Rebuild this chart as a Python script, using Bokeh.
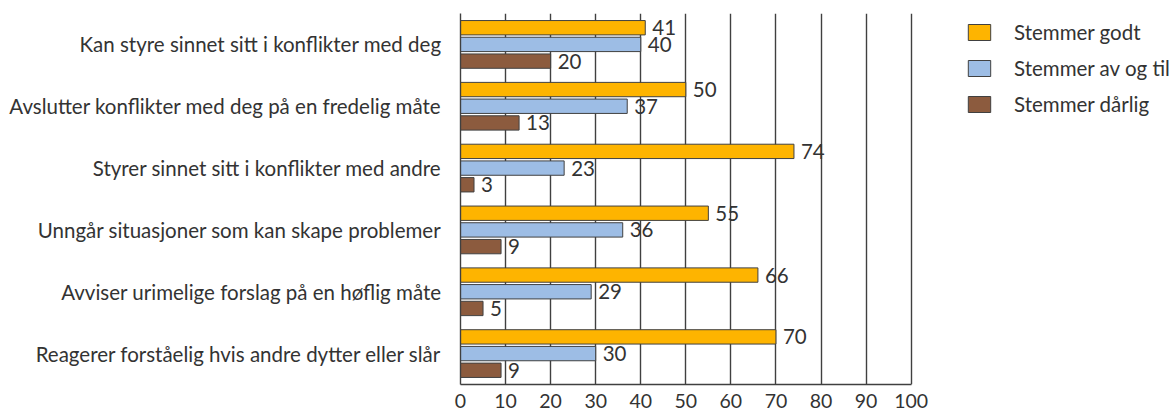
from bokeh.plotting import figure
from bokeh.models import (ColumnDataSource, FactorRange, Range1d, FixedTicker,
                          Legend, LegendItem)
from bokeh.transform import dodge
from bokeh.core.properties import value
from bokeh.embed import file_html
from bokeh.resources import INLINE

# Statements, listed top to bottom as they appear
categories = [
    "Kan styre sinnet sitt i konflikter med deg",
    "Avslutter konflikter med deg på en fredelig måte",
    "Styrer sinnet sitt i konflikter med andre",
    "Unngår situasjoner som kan skape problemer",
    "Avviser urimelige forslag på en høflig måte",
    "Reagerer forståelig hvis andre dytter eller slår",
]
stemmer_godt = [41, 50, 74, 55, 66, 70]
stemmer_av_og_til = [40, 37, 23, 36, 29, 30]
stemmer_darlig = [20, 13, 3, 9, 5, 9]
series_names = ["Stemmer godt", "Stemmer av og til", "Stemmer dårlig"]
x_ticks = [0, 10, 20, 30, 40, 50, 60, 70, 80, 90, 100]

FONT = "Lato"
FS = "20.5px"
TEXT = "#333333"
LINE = "#404040"
colors = ["#FEB400", "#9DBDE5", "#8C5B3E"]
offsets = [0.27, 0.0, -0.27]

p = figure(
    width=1172, height=410,
    y_range=FactorRange(factors=categories[::-1]),
    x_range=Range1d(0, 158.0),
    output_backend="svg", toolbar_location=None,
    min_border_left=460, min_border_right=0,
    min_border_top=13, min_border_bottom=20,
)
p.outline_line_color = None
p.background_fill_color = "white"
p.border_fill_color = "white"

# vertical grid lines at every 10
p.xaxis.ticker = FixedTicker(ticks=x_ticks)
p.xgrid.grid_line_color = LINE
p.xgrid.grid_line_width = 1.4
p.ygrid.grid_line_color = None

p.xaxis.bounds = (0, 100)
p.xaxis.axis_line_color = LINE
p.xaxis.axis_line_width = 1.4
p.xaxis.major_tick_line_color = None
p.xaxis.minor_tick_line_color = None
p.xaxis.major_label_text_font = FONT
p.xaxis.major_label_text_font_size = "19.5px"
p.xaxis.major_label_text_color = TEXT
p.xaxis.major_label_standoff = 3

p.yaxis.axis_line_color = LINE
p.yaxis.axis_line_width = 1.4
p.yaxis.major_tick_line_color = None
p.yaxis.minor_tick_line_color = None
p.yaxis.major_label_text_font = FONT
p.yaxis.major_label_text_font_size = FS
p.yaxis.major_label_text_color = TEXT
p.yaxis.major_label_standoff = 13

legend_items = []
for name, vals, color, off in zip(series_names,
                                  [stemmer_godt, stemmer_av_og_til, stemmer_darlig],
                                  colors, offsets):
    src = ColumnDataSource(dict(cat=categories, val=vals,
                                lbl=[str(v) for v in vals]))
    r = p.hbar(y=dodge("cat", off, range=p.y_range), right="val", left=0,
               height=0.232, source=src, fill_color=color,
               line_color=LINE, line_width=1)
    p.text(x="val", y=dodge("cat", off, range=p.y_range), text="lbl",
           source=src, x_offset=7, text_baseline="middle", text_align="left",
           text_font=value(FONT), text_font_size=FS, text_color=TEXT)
    legend_items.append(LegendItem(label=name, renderers=[r]))

legend = Legend(items=legend_items, location=(505, 268),
                glyph_width=28, glyph_height=20, label_standoff=21,
                spacing=12, padding=0, margin=0,
                border_line_color=None, background_fill_alpha=0,
                label_text_font=FONT, label_text_font_size=FS,
                label_text_color=TEXT)
p.add_layout(legend, "center")

open("out.html", "w").write(file_html(p, INLINE))
